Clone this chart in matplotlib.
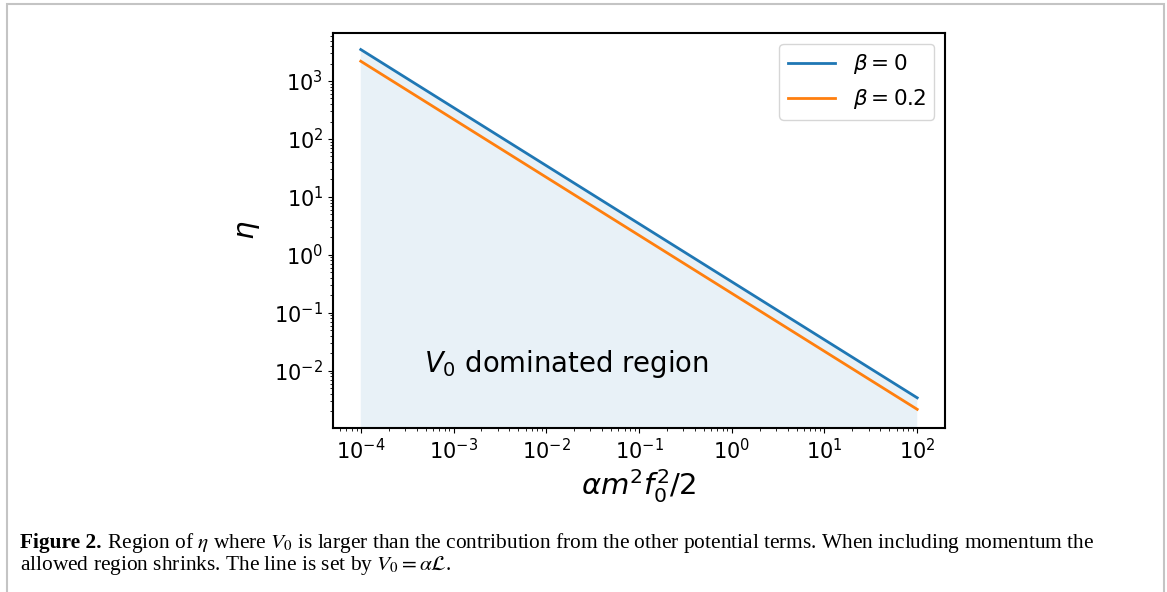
import matplotlib
matplotlib.use('Agg')
import matplotlib.pyplot as plt
from matplotlib.patches import Rectangle

# Datos
x_vals = [1e-4, 1e2]
eta_beta0 = [3.5e3, 3.4e-3]
eta_beta02 = [2.2e3, 2.15e-3]
series_labels = [r'$\beta = 0$', r'$\beta = 0.2$']
region_text = r'$V_0$ dominated region'
caption_bold = 'Figure 2.'
caption_l1 = (r' Region of $\eta$ where $V_0$ is larger than the contribution from the other '
              r'potential terms. When including momentum the')
caption_l2 = r'allowed region shrinks. The line is set by $V_0 = \alpha\mathcal{L}$.'

fig = plt.figure(figsize=(11.67, 5.92), dpi=100)
ax = fig.add_axes([0.2853, 0.277, 0.8098 - 0.2853, 0.9443 - 0.277])

ax.plot(x_vals, eta_beta0, color='C0', lw=2, label=series_labels[0])
ax.plot(x_vals, eta_beta02, color='C1', lw=2, label=series_labels[1])
ax.fill_between(x_vals, 1e-10, eta_beta0, color='C0', alpha=0.1, lw=0)

ax.set_xscale('log')
ax.set_yscale('log')
ax.set_ylim(10 ** -2.99, 10 ** 3.83)
ax.tick_params(labelsize=15)
ax.set_xlabel(r'$\alpha m^2 f_0^2/2$', fontsize=21, labelpad=3)
ax.set_ylabel(r'$\eta$', fontsize=21, labelpad=9)
ax.text(4.8e-4, 1.3e-2, region_text, fontsize=19.8, ha='left', va='center')
ax.legend(loc='upper right', fontsize=15.5, handlelength=2.2)
for s in ax.spines.values():
    s.set_linewidth(1.5)

# Marco gris y pie de figura
fig.patches.append(Rectangle((7 / 1167, -0.1), (1164 - 7) / 1167, 1 - 4 / 592 + 0.1,
                             transform=fig.transFigure, fill=False,
                             edgecolor='#c4c4c4', lw=1.5))
plt.rcParams['mathtext.fontset'] = 'stix'
fs_cap = 15.4
y1 = 1 - 548 / 592
y2 = 1 - 570 / 592
t1 = fig.text(20 / 1167, y1, caption_bold, fontsize=fs_cap, fontweight='bold',
              family='Liberation Serif', va='baseline', ha='left')
fig.canvas.draw()
bb = t1.get_window_extent()
fig.text(bb.x1 / fig.bbox.width, y1, caption_l1, fontsize=fs_cap,
         family='Liberation Serif', va='baseline', ha='left')
fig.text(20 / 1167, y2, caption_l2, fontsize=fs_cap,
         family='Liberation Serif', va='baseline', ha='left')

fig.savefig('out.png', dpi=100)
